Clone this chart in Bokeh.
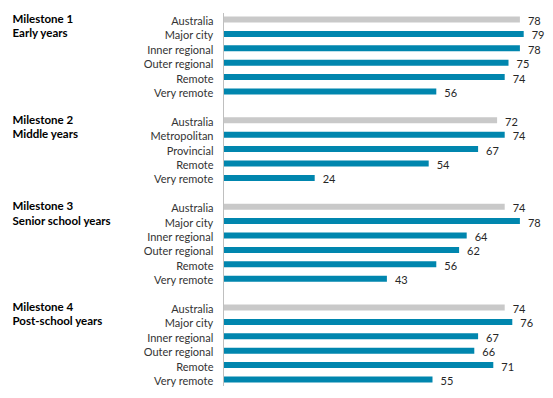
from bokeh.plotting import figure
from bokeh.models import ColumnDataSource, Range1d
from bokeh.core.properties import value
from bokeh.embed import file_html
from bokeh.resources import INLINE

# ---- data ----
milestones = ["Milestone 1", "Milestone 2", "Milestone 3", "Milestone 4"]
subtitles = ["Early years", "Middle years", "Senior school years", "Post-school years"]
cats_m1 = ["Australia", "Major city", "Inner regional", "Outer regional", "Remote", "Very remote"]
vals_m1 = [78, 79, 78, 75, 74, 56]
cats_m2 = ["Australia", "Metropolitan", "Provincial", "Remote", "Very remote"]
vals_m2 = [72, 74, 67, 54, 24]
cats_m3 = ["Australia", "Major city", "Inner regional", "Outer regional", "Remote", "Very remote"]
vals_m3 = [74, 78, 64, 62, 56, 43]
cats_m4 = ["Australia", "Major city", "Inner regional", "Outer regional", "Remote", "Very remote"]
vals_m4 = [74, 76, 67, 66, 71, 55]

groups_cats = [cats_m1, cats_m2, cats_m3, cats_m4]
groups_vals = [vals_m1, vals_m2, vals_m3, vals_m4]

TEAL = "#0086AE"
GREY = "#C9C9C9"

slots, cats, vals, colors = [], [], [], []
t_slots, t_text = [], []
pos = 0
for gi, (cs, vs) in enumerate(zip(groups_cats, groups_vals)):
    t_slots += [pos, pos + 1]
    t_text += [milestones[gi], subtitles[gi]]
    for i, (c, v) in enumerate(zip(cs, vs)):
        slots.append(pos)
        cats.append(c)
        vals.append(v)
        colors.append(GREY if i == 0 else TEAL)
        pos += 1
    pos += 1
last = pos - 2

W, H = 545, 392
scale = 3.8          # px per unit
zero_px = 223        # x pixel of value 0
slot_px = 14.4
top_pad = 19
x0 = -zero_px / scale
x1 = (W - zero_px) / scale
y_top = -top_pad / slot_px
y_bot = y_top + H / slot_px

p = figure(width=W, height=H, output_backend="svg", toolbar_location=None,
           x_range=Range1d(x0, x1), y_range=Range1d(y_bot, y_top),
           x_axis_type=None, y_axis_type=None, min_border=0)
p.grid.visible = False
p.outline_line_color = None
p.background_fill_color = "white"

src = ColumnDataSource(dict(y=slots, cat=cats, val=vals, color=colors,
                            lbl=[str(v) for v in vals]))

p.hbar(y="y", left=0, right="val", height=0.42, fill_color="color",
       line_color=None, source=src)

# axis line
p.segment(x0=[0], y0=[-0.45], x1=[0], y1=[last + 0.45], line_color="#BFBFBF", line_width=1)

p.text(x=0, y="y", text="cat", source=src, text_align="right", text_baseline="middle",
       x_offset=-10, y_offset=1, text_font=value("Lato"), text_font_size="11px",
       text_color="#333333")

p.text(x="val", y="y", text="lbl", source=src, text_align="left", text_baseline="middle",
       x_offset=8, y_offset=1.5, text_font=value("Lato"), text_font_size="11px",
       text_color="#262626")

tsrc = ColumnDataSource(dict(y=t_slots, t=t_text, x=[x0] * len(t_slots)))
p.text(x="x", y="y", text="t", source=tsrc, text_align="left", text_baseline="middle",
       x_offset=12, y_offset=-1, text_font=value("Lato"), text_font_size="11.5px",
       text_font_style="bold", text_color="#000000")

open("out.html", "w").write(file_html(p, INLINE))
